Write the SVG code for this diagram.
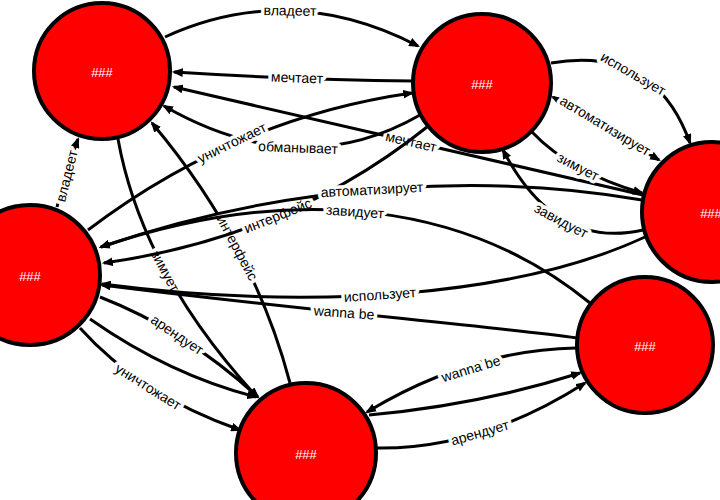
<svg xmlns="http://www.w3.org/2000/svg" width="720" height="500" viewBox="0 0 720 500">
<style>
.e{fill:none;stroke:#000;stroke-width:3;marker-end:url(#arr)}
.l{font-family:"Liberation Sans",Arial,sans-serif;font-size:14px;fill:#000;text-anchor:middle;stroke:#fff;stroke-width:7;stroke-linejoin:round;paint-order:stroke}
.n circle{fill:#ff0000;stroke:#000;stroke-width:4}
.n text{font-family:"Liberation Sans",Arial,sans-serif;font-size:13px;fill:#fff;text-anchor:middle}
</style>
<defs>
<marker id="arr" viewBox="0 0 10 8" refX="8" refY="4" markerWidth="11" markerHeight="9" markerUnits="userSpaceOnUse" orient="auto-start-reverse"><path d="M0,0 L10,4 L0,8 z" fill="#000"/></marker>
</defs>
<rect width="720" height="500" fill="#fff"/>
<g id="connectors">
<g><path class="e" d="M165,37 Q290,-20 418,46"/><text class="l" dy=".32em" transform="translate(290,11) rotate(1)">владеет</text></g>
<g><path class="e" d="M413,81 Q300,80 174,72"/><text class="l" dy=".32em" transform="translate(297,78) rotate(2)">мечтает</text></g>
<g><path class="e" d="M643,195 L174,87"/><text class="l" dy=".32em" transform="translate(411,142) rotate(13)">мечтает</text></g>
<g><path class="e" d="M420,115 Q300,184 164,106"/><text class="l" dy=".32em" transform="translate(298,148) rotate(2)">обманывает</text></g>
<g><path class="e" d="M88,230 Q236,118 412,93"/><text class="l" dy=".32em" transform="translate(232,143) rotate(-26)">уничтожает</text></g>
<g><path class="e" d="M57,207 Q65,175 78,139"/><text class="l" dy=".32em" transform="translate(67,176) rotate(-76)">владеет</text></g>
<g><path class="e" d="M118,139 Q142,272 257,397"/><text class="l" dy=".32em" transform="translate(165,271) rotate(62)">зимует</text></g>
<g><path class="e" d="M290,383 Q253,243 152,123"/><text class="l" dy=".32em" transform="translate(237,248) rotate(62)">интерфейс</text></g>
<g><path class="e" d="M427,127 Q290,237 104,263"/><text class="l" dy=".32em" transform="translate(278,216) rotate(-22)">интерфейс</text></g>
<g><path class="e" d="M642,200 C500,175 300,178 101,247"/><text class="l" dy=".32em" transform="translate(372,190) rotate(-3)">автоматизирует</text></g>
<g><path class="e" d="M590,303 C470,205 300,180 101,247"/><text class="l" dy=".32em" transform="translate(355,212) rotate(4)">завидует</text></g>
<g><path class="e" d="M645,237 C520,295 320,312 102,284"/><text class="l" dy=".32em" transform="translate(380,295) rotate(-4)">использует</text></g>
<g><path class="e" d="M577,338 C480,325 300,310 102,285"/><text class="l" dy=".32em" transform="translate(344,313) rotate(4)">wanna be</text></g>
<g><path class="e" d="M100,297 Q185,330 258,397"/><text class="l" dy=".32em" transform="translate(177,335) rotate(34)">арендует</text></g>
<g><path class="e" d="M90,319 Q170,375 256,397"/></g>
<g><path class="e" d="M80,328 Q140,395 240,430"/><text class="l" dy=".32em" transform="translate(148,387) rotate(32)">уничтожает</text></g>
<g><path class="e" d="M369,415 Q480,405 580,373"/></g>
<g><path class="e" d="M576,348 Q470,350 367,412"/><text class="l" dy=".32em" transform="translate(471,369) rotate(-17)">wanna be</text></g>
<g><path class="e" d="M375,448 Q480,450 585,383"/><text class="l" dy=".32em" transform="translate(480,433) rotate(-16)">арендует</text></g>
<g><path class="e" d="M551,63 Q655,45 690,143"/><text class="l" dy=".32em" transform="translate(633,74) rotate(30)">использует</text></g>
<g><path class="e" style="marker-start:url(#arr)" d="M553,97 L659,160"/><text class="l" dy=".32em" transform="translate(605,126) rotate(31)">автоматизирует</text></g>
<g><path class="e" d="M532,132 Q570,172 642,193"/><text class="l" dy=".32em" transform="translate(578,167) rotate(27)">зимует</text></g>
<g><path class="e" d="M643,230 Q555,250 503,150"/><text class="l" dy=".32em" transform="translate(561,221) rotate(28)">завидует</text></g>
</g>
<g id="nodeA" class="n"><circle cx="102" cy="71" r="68"/><text x="102" y="77">###</text></g>
<g id="nodeB" class="n"><circle cx="482" cy="83" r="69"/><text x="482" y="89">###</text></g>
<g id="nodeC" class="n"><circle cx="712" cy="212" r="70"/><text x="711" y="218">###</text></g>
<g id="nodeD" class="n"><circle cx="30" cy="275" r="70"/><text x="30" y="281">###</text></g>
<g id="nodeE" class="n"><circle cx="306" cy="453" r="70"/><text x="306" y="459">###</text></g>
<g id="nodeF" class="n"><circle cx="645" cy="345" r="68"/><text x="645" y="351">###</text></g>
</svg>
